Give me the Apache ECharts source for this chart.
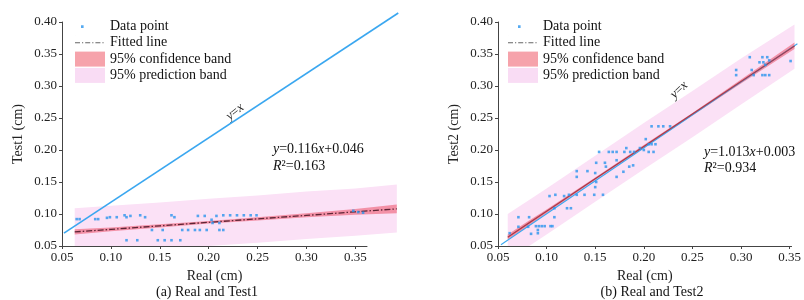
<!DOCTYPE html>
<html><head><meta charset="utf-8">
<script src="https://cdn.jsdelivr.net/npm/echarts@6/dist/echarts.min.js"></script>
<style>html,body{margin:0;padding:0;background:#fff}#c{width:804px;height:300px}</style>
</head><body><div id="c"></div>
<script>
// ---------- data ----------
const xTicks = [0.05, 0.10, 0.15, 0.20, 0.25, 0.30, 0.35];
const yTicks = [0.05, 0.10, 0.15, 0.20, 0.25, 0.30, 0.35, 0.40];

// (a) Real vs Test1 data points
const aRealX = [0.065,0.068,0.084,0.087,0.096,0.099,0.106,0.114,0.116,0.130,0.135,0.120,
                0.116,0.127,0.142,0.148,0.155,0.162,0.171,0.153,0.162,0.165,
                0.173,0.179,0.186,0.191,0.198,0.189,0.196,0.208,0.203,0.211,
                0.215,0.222,0.229,0.236,0.243,0.249,0.204,0.211,0.215,0.348,0.353,0.358];
const aTest1Y = [0.092,0.092,0.092,0.092,0.094,0.095,0.095,0.098,0.095,0.098,0.095,0.097,
                 0.059,0.059,0.075,0.059,0.059,0.059,0.059,0.075,0.098,0.095,
                 0.075,0.075,0.075,0.075,0.075,0.097,0.097,0.097,0.091,0.075,
                 0.098,0.098,0.098,0.098,0.098,0.098,0.086,0.086,0.075,0.105,0.103,0.102];
// (a) bands and fitted line sampled along x
const aBandX     = [0.063,0.100,0.150,0.200,0.250,0.300,0.350,0.3925];
const aFit       = [0.072,0.076,0.0815,0.087,0.0924,0.0978,0.1034,0.108];
const aConfUp    = [0.076,0.079,0.084,0.089,0.095,0.101,0.108,0.115];
const aConfLow   = [0.068,0.073,0.079,0.085,0.090,0.095,0.099,0.101];
const aPredUp    = [0.109,0.113,0.118,0.124,0.129,0.135,0.140,0.146];
const aPredLow   = [0.050,0.050,0.050,0.050,0.055,0.061,0.066,0.071];
const aIdentityX = [0.052,0.394];
const aIdentityY = [0.070,0.414];

// (b) Real vs Test2 data points
const bRealX = [0.062,0.071,0.071,0.082,0.081,0.084,0.089,0.092,0.095,0.098,0.104,0.091,0.091,0.106,0.108,
                0.108,0.103,0.109,0.121,0.125,0.118,0.123,0.131,0.139,0.149,0.158,0.131,0.131,0.142,0.150,
                0.151,0.151,0.160,0.161,0.154,0.164,0.172,0.180,0.182,0.172,0.172,0.179,0.185,0.189,0.150,
                0.208,0.215,0.220,0.227,0.202,0.205,0.208,0.212,0.200,0.205,0.210,0.196,0.190,0.186,0.168,
                0.295,0.295,0.309,0.322,0.327,0.311,0.313,0.319,0.323,0.329,0.325,0.322,0.325,0.329,0.351];
const bTest2Y = [0.070,0.095,0.080,0.095,0.080,0.069,0.081,0.081,0.081,0.081,0.081,0.075,0.070,0.081,0.095,
                 0.109,0.128,0.130,0.109,0.109,0.128,0.130,0.130,0.130,0.130,0.130,0.158,0.167,0.167,0.164,
                 0.180,0.150,0.180,0.174,0.197,0.197,0.197,0.197,0.203,0.184,0.158,0.166,0.174,0.176,0.142,
                 0.237,0.237,0.237,0.237,0.217,0.209,0.209,0.209,0.200,0.197,0.197,0.203,0.197,0.197,0.197,
                 0.325,0.317,0.345,0.345,0.345,0.325,0.317,0.337,0.337,0.340,0.333,0.317,0.317,0.317,0.339];
const bBandX    = [0.060,0.082,0.100,0.150,0.200,0.250,0.300,0.355];
const bFit      = [0.0638,0.0861,0.1043,0.1550,0.2056,0.2563,0.3069,0.3626];
const bConfUp   = [0.068,0.090,0.107,0.157,0.208,0.258,0.310,0.368];
const bConfLow  = [0.060,0.082,0.101,0.153,0.204,0.254,0.304,0.358];
const bPredUp   = [0.100,0.122,0.140,0.191,0.242,0.292,0.343,0.396];
const bPredLow  = [0.050,0.050,0.068,0.119,0.170,0.220,0.271,0.327];
const bIdentityX = [0.053,0.358];
const bIdentityY = [0.052,0.366];

// ---------- styling ----------
const FONT = 'Liberation Serif';
const PT_COLOR = '#2b95ee';
const CONF_COLOR = 'rgba(238,95,118,0.62)';
const PRED_COLOR = '#fbe1f6';
const ID_COLOR = '#3aa7f0';

function bandSeries(name, idx, xs, up, low, fill, z) {
  return {
    type: 'custom', name, xAxisIndex: idx, yAxisIndex: idx, z, silent: true, clip: false,
    data: [[xs[0], up[0]]],
    renderItem: (params, api) => {
      const pts = xs.map((x, i) => api.coord([x, up[i]]));
      for (let i = xs.length - 1; i >= 0; i--) pts.push(api.coord([xs[i], low[i]]));
      return { type: 'polygon', shape: { points: pts }, style: { fill } };
    }
  };
}
function polySeries(name, idx, xs, ys, stroke, lineWidth, lineDash, z) {
  return {
    type: 'custom', name, xAxisIndex: idx, yAxisIndex: idx, z, silent: true, clip: false,
    data: [[xs[0], ys[0]]],
    renderItem: (params, api) => ({
      type: 'polyline',
      shape: { points: xs.map((x, i) => api.coord([x, ys[i]])) },
      style: { stroke, lineWidth, lineDash: lineDash || null, fill: null }
    })
  };
}

function xAxis(idx, max) {
  return {
    type: 'value', gridIndex: idx, min: 0.05, max,
    name: 'Real (cm)', nameLocation: 'middle', nameGap: 22,
    nameTextStyle: { fontFamily: FONT, fontSize: 14, color: '#222' },
    axisLine: { lineStyle: { color: '#444', width: 1 } },
    axisTick: { show: true, length: 3, customValues: xTicks, lineStyle: { color: '#444' } },
    axisLabel: { customValues: xTicks, formatter: v => v.toFixed(2), fontFamily: FONT, fontSize: 13, color: '#222', margin: 5 },
    splitLine: { show: false }
  };
}
function yAxis(idx, name) {
  return {
    type: 'value', gridIndex: idx, min: 0.05, max: 0.40,
    name, nameLocation: 'middle', nameGap: 37,
    nameTextStyle: { fontFamily: FONT, fontSize: 14, color: '#222' },
    axisLine: { show: true, lineStyle: { color: '#444', width: 1 } },
    axisTick: { show: true, length: 3, customValues: yTicks, lineStyle: { color: '#444' } },
    axisLabel: { customValues: yTicks, formatter: v => v.toFixed(2), fontFamily: FONT, fontSize: 13, color: '#222', margin: 5 },
    splitLine: { show: false }
  };
}

const CORNERS = 'M0,0L0.1,0L0,0.1ZM30,15L29.9,15L30,14.9Z';
const dotIconA = 'path://' + CORNERS + 'M6,6.3h2.6v2.6h-2.6z';
const dotIconB = 'path://' + CORNERS + 'M10,6.3h2.6v2.6h-2.6z';
const dashDotIcon = 'path://' + CORNERS + 'M0,7h5v1h-5zM7,7h1.2v1h-1.2zM10.2,7h5v1h-5zM17.2,7h1.2v1h-1.2zM20.4,7h5v1h-5zM27.4,7h1.2v1h-1.2z';
function legend(left, icon) {
  return {
    left, top: 14, orient: 'vertical', itemWidth: 30, itemHeight: 15, itemGap: 1.3,
    selectedMode: false,
    textStyle: { fontFamily: FONT, fontSize: 14, color: '#111', lineHeight: 15 },
    data: [
      { name: 'Data point', icon, itemStyle: { color: PT_COLOR, borderWidth: 0 } },
      { name: 'Fitted line', icon: dashDotIcon, itemStyle: { color: '#666', borderWidth: 0 } },
      { name: '95% confidence band', icon: 'rect', itemStyle: { color: '#f6a3ab', borderWidth: 0 } },
      { name: '95% prediction band', icon: 'rect', itemStyle: { color: '#f9dcf4', borderWidth: 0 } }
    ]
  };
}

function seriesFor(idx, px, py, bx, fit, cu, cl, pu, pl, ix, iy, idWidth, fitColor, fitDash) {
  return [
    bandSeries('95% prediction band', idx, bx, pu, pl, PRED_COLOR, 1),
    bandSeries('95% confidence band', idx, bx, cu, cl, CONF_COLOR, 2),
    polySeries('y=x', idx, ix, iy, ID_COLOR, idWidth, null, 3),
    polySeries('Fitted line', idx, bx, fit, fitColor, 1.3, fitDash, 4),
    { type: 'scatter', name: 'Data point', xAxisIndex: idx, yAxisIndex: idx, z: 5, clip: false,
      symbol: 'rect', symbolSize: 2.6, data: px.map((x, i) => [x, py[i]]), itemStyle: { color: PT_COLOR } }
  ];
}

const rich = { i: { fontStyle: 'italic', fontFamily: FONT, fontSize: 14, color: '#111' } };
function txt(x, y, text) {
  return { type: 'text', x, y, silent: true,
    style: { text, rich, fontFamily: FONT, fontSize: 14, fill: '#111' } };
}
function idLabel(x, y, rot) {
  return { type: 'text', x, y, rotation: rot, silent: true,
    style: { text: '{i|y}={i|x}', rich: { i: { fontStyle: 'italic', fontFamily: FONT, fontSize: 13, color: '#222' } },
      fontFamily: FONT, fontSize: 13, fill: '#222', align: 'center', verticalAlign: 'middle' } };
}

const option = {
  animation: false,
  backgroundColor: '#fff',
  grid: [
    { left: 62, top: 22, width: 305, height: 224 },
    { left: 498, top: 22, width: 297, height: 224 }
  ],
  xAxis: [xAxis(0, 0.362), xAxis(1, 0.352)],
  yAxis: [yAxis(0, 'Test1 (cm)'), yAxis(1, 'Test2 (cm)')],
  legend: [legend(70, dotIconA), legend(503, dotIconB)],
  title: [
    { text: '(a) Real and Test1', left: 202, top: 280, textAlign: 'center',
      textStyle: { fontFamily: FONT, fontSize: 14, fontWeight: 'normal', color: '#111' } },
    { text: '(b) Real and Test2', left: 647, top: 280, textAlign: 'center',
      textStyle: { fontFamily: FONT, fontSize: 14, fontWeight: 'normal', color: '#111' } }
  ],
  graphic: [
    txt(273, 142, '{i|y}=0.116{i|x}+0.046'),
    txt(273, 159, '{i|R}²=0.163'),
    txt(704, 145, '{i|y}=1.013{i|x}+0.003'),
    txt(704, 161, '{i|R}²=0.934'),
    idLabel(235, 112, 0.68),
    idLabel(679, 90, 0.75)
  ],
  series: [
    ...seriesFor(0, aRealX, aTest1Y, aBandX, aFit, aConfUp, aConfLow, aPredUp, aPredLow, aIdentityX, aIdentityY, 1.6, '#5e2536', [6, 2, 1.5, 2]),
    ...seriesFor(1, bRealX, bTest2Y, bBandX, bFit, bConfUp, bConfLow, bPredUp, bPredLow, bIdentityX, bIdentityY, 1.1, '#a83a4a', null)
  ]
};
const chart = echarts.init(document.getElementById('c'), null, { renderer: 'canvas' });
chart.setOption(option);
</script>
</body></html>
